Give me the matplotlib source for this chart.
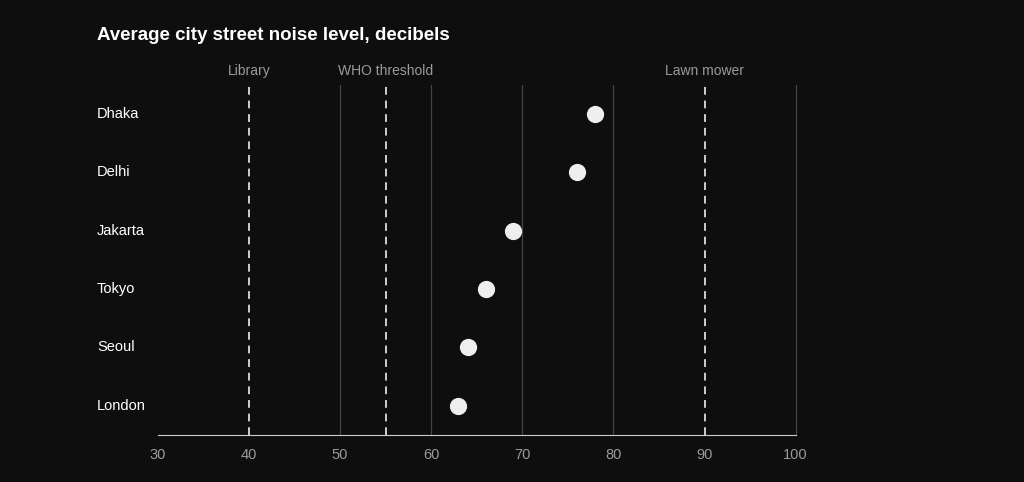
import matplotlib.pyplot as plt
from matplotlib.transforms import blended_transform_factory

cities = ["Dhaka", "Delhi", "Jakarta", "Tokyo", "Seoul", "London"]
noise_db = [78, 76, 69, 66, 64, 63]
ref_levels = [40, 55, 90]
ref_labels = ["Library", "WHO threshold", "Lawn mower"]
ticks = [30, 40, 50, 60, 70, 80, 90, 100]

bg = "#0e0e0e"
fig = plt.figure(figsize=(10.24, 4.82), dpi=100, facecolor=bg)
ax = fig.add_axes([0.154, 0.0975, 0.623, 0.7265], facecolor=bg)

ypos = list(range(len(cities)))[::-1]

for t in [50, 60, 70, 80, 100]:
    ax.axvline(t, color="#444444", linewidth=0.9, zorder=1, clip_on=False)
for lv, lb in zip(ref_levels, ref_labels):
    ax.axvline(lv, color="#cfcfcf", linewidth=1.4, linestyle=(0, (4, 3)), zorder=2)
    ax.text(lv, 1.02, lb, transform=ax.get_xaxis_transform(), ha="center",
            va="bottom", color="#9a9a9a", fontsize=10, family="Liberation Sans")

ax.scatter(noise_db, ypos, s=130, color="#eeeeee", zorder=3)

ax.set_xlim(30, 100)
ax.set_ylim(-0.5, len(cities) - 0.5)
ax.set_xticks(ticks)
ax.set_xticklabels([str(t) for t in ticks], color="#9a9a9a", fontsize=10.5,
                   family="Liberation Sans")
ax.tick_params(axis="x", length=0, pad=9)
ax.set_yticks([])
for s in ["top", "right", "left"]:
    ax.spines[s].set_visible(False)
ax.spines["bottom"].set_color("#cccccc")

label_tr = blended_transform_factory(fig.transFigure, ax.transData)
for c, y in zip(cities, ypos):
    ax.text(97 / 1024, y, c, transform=label_tr, color="white", fontsize=10.5,
            va="center", family="Liberation Sans")

fig.text(97 / 1024, 1 - 36 / 482, "Average city street noise level, decibels",
         color="white", fontsize=13.5, fontweight="bold", va="center",
         family="Liberation Sans")

fig.savefig("out.png", dpi=100, facecolor=bg)
